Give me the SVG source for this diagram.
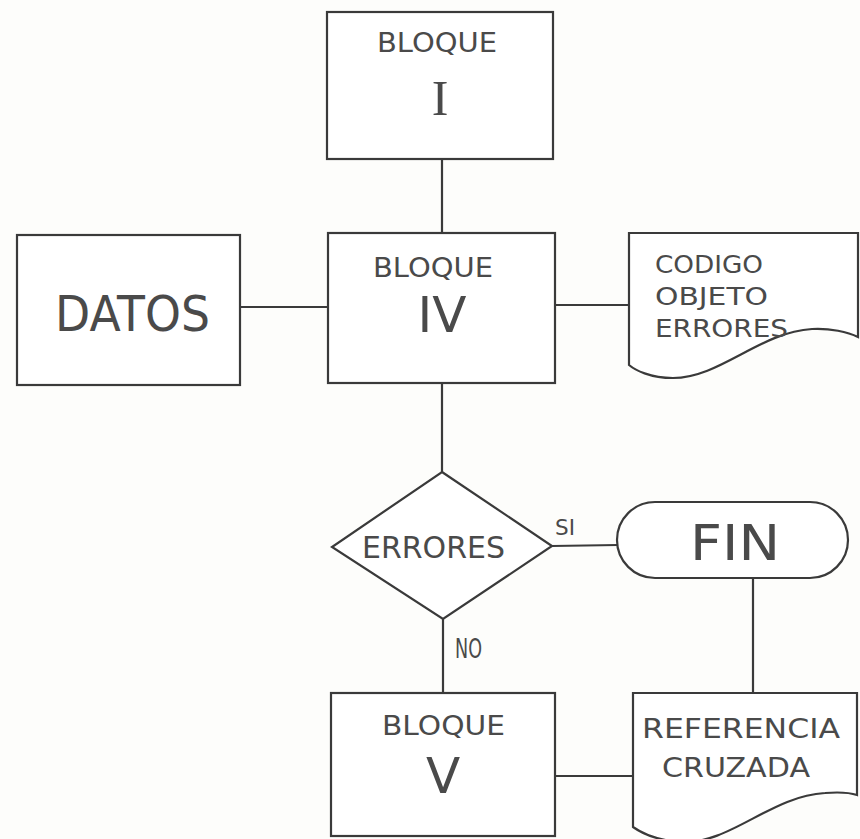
<svg xmlns="http://www.w3.org/2000/svg" width="860" height="839" viewBox="0 0 860 839">
<style>
.s{fill:none;stroke:#3a3a3a;stroke-width:2.2}
.n{fill:#fff;stroke:#3a3a3a;stroke-width:2.2}
text{font-family:"DejaVu Sans","Liberation Sans",sans-serif;fill:#4a4a4a;font-weight:normal}
.t{font-size:27px}
.big{font-size:50px}
.sm{font-size:25px}
</style>
<rect x="0" y="0" width="860" height="839" fill="#fdfdfb"/>
<g id="connectors">
<line class="s" x1="442" y1="159" x2="442" y2="233"/>
<line class="s" x1="240" y1="307" x2="328" y2="307"/>
<line class="s" x1="555" y1="305" x2="629" y2="305"/>
<line class="s" x1="442" y1="383" x2="442" y2="472"/>
<line class="s" x1="552" y1="546" x2="618" y2="545"/>
<line class="s" x1="443" y1="619" x2="443" y2="693"/>
<line class="s" x1="753" y1="578" x2="753" y2="693"/>
<line class="s" x1="555" y1="776" x2="633" y2="776"/>
</g>
<g id="bloque1">
<rect class="n" x="327" y="12" width="226" height="147"/>
<text class="t" x="377" y="52" textLength="120" lengthAdjust="spacingAndGlyphs">BLOQUE</text>
<text x="440" y="115" text-anchor="middle" style="font-family:'Liberation Serif',serif;font-size:50px">I</text>
</g>
<g id="datos">
<rect class="n" x="17" y="235" width="223" height="150"/>
<text class="big" x="55" y="331" textLength="155" lengthAdjust="spacingAndGlyphs">DATOS</text>
</g>
<g id="bloque4">
<rect class="n" x="328" y="233" width="227" height="150"/>
<text class="t" x="373" y="277" textLength="120" lengthAdjust="spacingAndGlyphs">BLOQUE</text>
<text class="big" x="442" y="332" text-anchor="middle">IV</text>
</g>
<g id="codigo">
<path class="n" d="M629,233 H858 V337 C848,332 830,328 812,329 C760,332 720,378 673,378 C650,378 635,370 629,365 Z"/>
<text class="sm" x="655" y="273" textLength="108" lengthAdjust="spacingAndGlyphs">CODIGO</text>
<text class="sm" x="655" y="305" textLength="113" lengthAdjust="spacingAndGlyphs">OBJETO</text>
<text class="sm" x="655" y="337" textLength="133" lengthAdjust="spacingAndGlyphs">ERRORES</text>
</g>
<g id="errores">
<path class="n" d="M442,472 L552,546 L443,619 L332,547 Z"/>
<text x="362" y="558" style="font-size:30px" textLength="143" lengthAdjust="spacingAndGlyphs">ERRORES</text>
<text x="555" y="535" style="font-size:21px" textLength="20" lengthAdjust="spacingAndGlyphs">SI</text>
<text x="455" y="658" style="font-size:27px" textLength="27" lengthAdjust="spacingAndGlyphs">NO</text>
</g>
<g id="fin">
<rect class="n" x="617" y="502" width="231" height="76" rx="38" ry="38"/>
<text class="big" x="690" y="560" textLength="90" lengthAdjust="spacingAndGlyphs">FIN</text>
</g>
<g id="bloque5">
<rect class="n" x="331" y="693" width="224" height="143"/>
<text class="t" x="382" y="735" textLength="123" lengthAdjust="spacingAndGlyphs">BLOQUE</text>
<text class="big" x="443" y="793" text-anchor="middle">V</text>
</g>
<g id="referencia">
<path class="n" d="M633,693 H857 V795 C848,792 838,792 825,793 C770,796 730,845 680,842 C655,840 640,832 633,827 Z"/>
<text style="font-size:27px" x="642" y="738" textLength="198" lengthAdjust="spacingAndGlyphs">REFERENCIA</text>
<text style="font-size:27px" x="662" y="777" textLength="148" lengthAdjust="spacingAndGlyphs">CRUZADA</text>
</g>
</svg>
